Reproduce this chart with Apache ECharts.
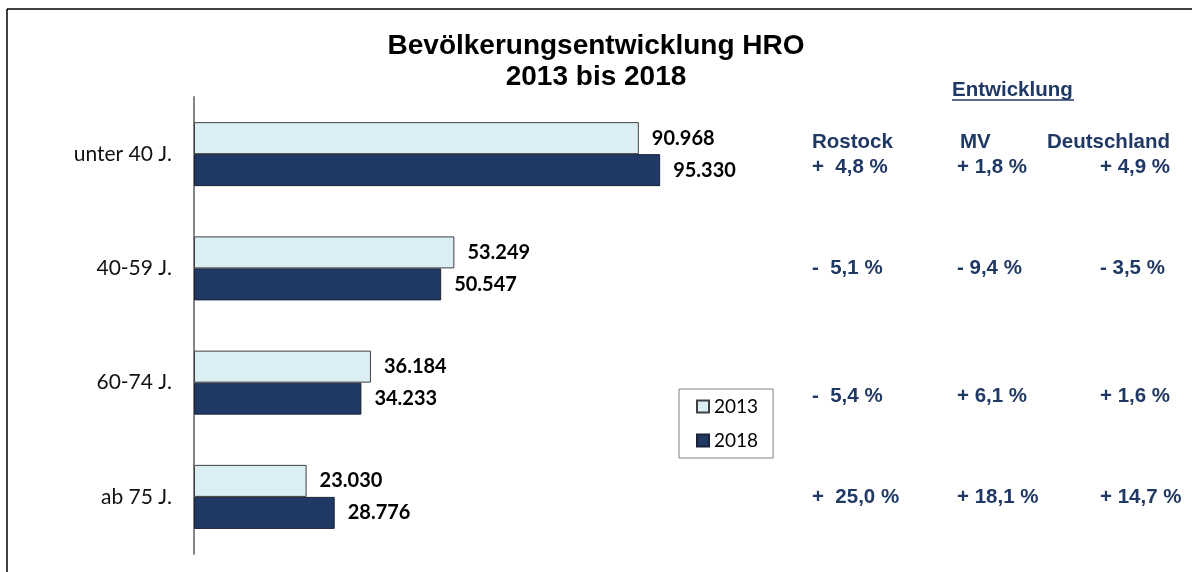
<!DOCTYPE html>
<html>
<head>
<meta charset="utf-8">
<script src="https://cdn.jsdelivr.net/npm/echarts@6/dist/echarts.min.js"></script>
<style>
html, body { margin: 0; padding: 0; background: #fff; }
#main { width: 1192px; height: 572px; }
</style>
</head>
<body>
<div id="main"></div>
<script>
// Altersgruppen und Einwohner
var categories = ['unter 40 J.', '40-59 J.', '60-74 J.', 'ab 75 J.'];
var values2013 = [90968, 53249, 36184, 23030];
var values2018 = [95330, 50547, 34233, 28776];

// Entwicklung (Tabelle rechts)
var regions = ['Rostock', 'MV', 'Deutschland'];
var changeRostock = ['+  4,8 %', '-  5,1 %', '-  5,4 %', '+  25,0 %'];
var changeMV = ['+ 1,8 %', '- 9,4 %', '+ 6,1 %', '+ 18,1 %'];
var changeDE = ['+ 4,9 %', '- 3,5 %', '+ 1,6 %', '+ 14,7 %'];

var navy = '#1F3864';

// Tausenderpunkt
function formatNum(v) {
	return String(v).replace(/\B(?=(\d{3})+(?!\d))/g, '.');
}

var tableFont = 'bold 20.5px "Liberation Sans", Arial, sans-serif';
var colX = [812, 957, 1100];
var headX = [812, 960, 1047];
var rowY = [167, 268, 396, 497];
var columns = [changeRostock, changeMV, changeDE];

var graphics = [
	// Rahmen
	{ type : 'line', shape : { x1 : 7, y1 : 9, x2 : 1192, y2 : 9 }, style : { stroke : '#000', lineWidth : 1.5 } },
	{ type : 'line', shape : { x1 : 7, y1 : 9, x2 : 7, y2 : 572 }, style : { stroke : '#000', lineWidth : 1.5 } },
	{ type : 'text', x : 952, y : 90, style : { text : 'Entwicklung', font : tableFont, fill : navy, textVerticalAlign : 'middle' } },
	{ type : 'line', shape : { x1 : 952, y1 : 100, x2 : 1074, y2 : 100 }, style : { stroke : navy, lineWidth : 1.5 } }
];
for (var c = 0; c < regions.length; c++) {
	graphics.push({ type : 'text', x : headX[c], y : 142, style : { text : regions[c], font : tableFont, fill : navy, textVerticalAlign : 'middle' } });
	for (var r = 0; r < categories.length; r++) {
		graphics.push({ type : 'text', x : colX[c], y : rowY[r], style : { text : columns[c][r], font : tableFont, fill : navy, textVerticalAlign : 'middle' } });
	}
}

var myChart = echarts.init(document.getElementById('main'));
var option = {
	backgroundColor : '#fff',
	animation : false,
	title : {
		text : 'Bevölkerungsentwicklung HRO\n2013 bis 2018',
		left : 'center',
		top : 26,
		textStyle : {
			fontFamily : '"Liberation Sans", Arial, sans-serif',
			fontWeight : 'bold',
			fontSize : 28,
			lineHeight : 31,
			color : '#000',
			align : 'center'
		}
	},
	legend : {
		data : ['2013', '2018'],
		orient : 'vertical',
		left : 679,
		top : 389,
		padding : [8, 15, 8, 17],
		itemGap : 15,
		itemWidth : 12,
		itemHeight : 12,
		icon : 'rect',
		borderColor : '#808080',
		borderWidth : 1,
		textStyle : {
			fontFamily : 'Lato, sans-serif',
			fontSize : 19,
			color : '#000'
		}
	},
	grid : {
		left : 194,
		top : 97,
		width : 489,
		height : 457,
		containLabel : false
	},
	xAxis : {
		type : 'value',
		min : 0,
		max : 100000,
		show : false
	},
	yAxis : {
		type : 'category',
		data : categories,
		inverse : true,
		axisTick : { show : false },
		axisLine : { lineStyle : { color : '#868686', width : 2 } },
		axisLabel : {
			margin : 22,
			fontFamily : 'Lato, sans-serif',
			fontSize : 21,
			color : '#111'
		}
	},
	series : [ {
		name : '2013',
		type : 'bar',
		data : values2013,
		barWidth : 32,
		barGap : '0%',
		itemStyle : { color : '#DBEEF3', borderColor : '#404040', borderWidth : 1 },
		label : {
			show : true,
			position : 'right',
			distance : 13,
			formatter : function(p) { return formatNum(p.value); },
			fontFamily : 'Lato, sans-serif',
			fontWeight : 'bold',
			fontSize : 20,
			color : '#000'
		}
	}, {
		name : '2018',
		type : 'bar',
		data : values2018,
		barWidth : 32,
		itemStyle : { color : navy, borderColor : '#1a2238', borderWidth : 1 },
		label : {
			show : true,
			position : 'right',
			distance : 13,
			formatter : function(p) { return formatNum(p.value); },
			fontFamily : 'Lato, sans-serif',
			fontWeight : 'bold',
			fontSize : 20,
			color : '#000'
		}
	} ],
	graphic : graphics
};
myChart.setOption(option);
</script>
</body>
</html>
